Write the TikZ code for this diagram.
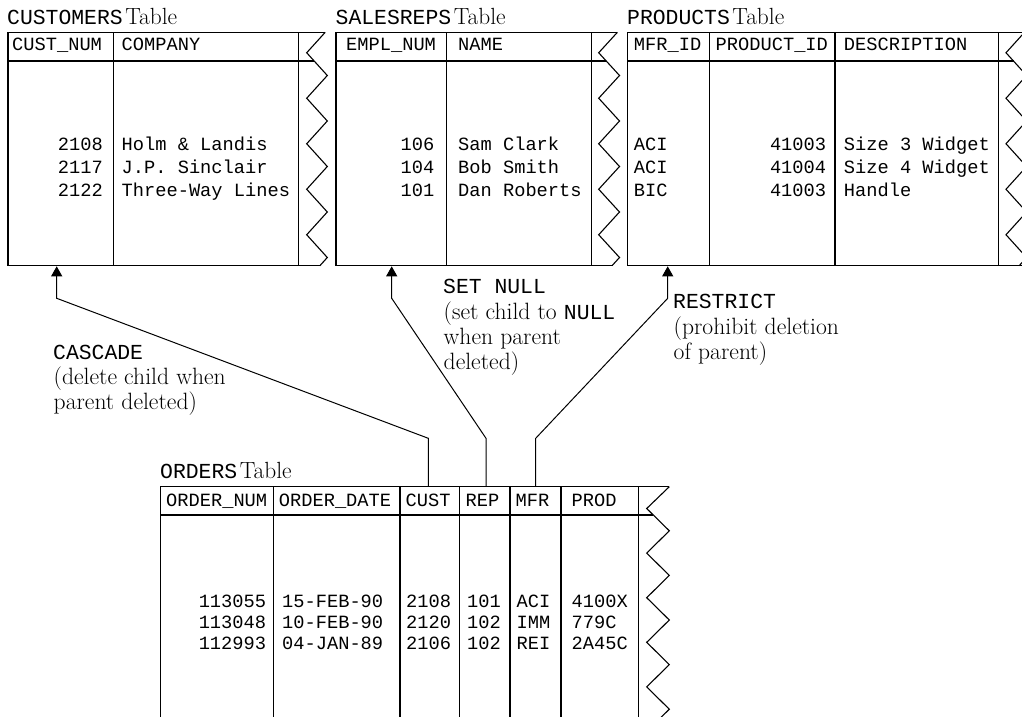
\documentclass[tikz,border=0pt]{standalone}
\usepackage{fontspec}
\setmonofont{Liberation Mono}
\usetikzlibrary{arrows.meta}
\newcommand\mtt[1]{{\fontsize{21.4}{25}\selectfont\ttfamily #1}}
\tikzset{
  tbl/.style={line width=1.1pt, line join=miter},
  hdr/.style={line width=1.7pt},
  cell/.style={inner sep=0pt, font=\fontsize{18.7}{22}\selectfont\ttfamily},
  numc/.style={cell, anchor=base east},
  txtc/.style={cell, anchor=base west},
  ttl/.style={inner sep=0pt, anchor=base west, font=\fontsize{23.4}{25}\selectfont},
  lbl/.style={inner sep=0pt, anchor=base west, font=\fontsize{23.6}{25}\selectfont},
  conn/.style={line width=1pt, -{Triangle[length=10pt,width=11pt]}},
}
% zigzag edge of a top table: #1 = left peak x, #2 = right peak x
\newcommand\myzz[2]{%
  \draw[tbl] ({#2-0.101*(#2-#1)},32.3)
    foreach \k in {0,...,4}{ -- (#1,{52.75+45.5*\k}) -- (#2,{75.5+45.5*\k}) }
    -- ({#2-0.36*(#2-#1)},265.7);}
\begin{document}
\begin{tikzpicture}[x=1pt,y=-1pt]
\useasboundingbox (0,0) rectangle (1022,717);
\clip (0,0) rectangle (1022,717);

% ---------------- CUSTOMERS ----------------
\node[ttl] (tcust) at (7,24.5) {\mtt{CUSTOMERS}\hspace{2.5pt}Table};
\draw[tbl] (325.2,32.3) -- (8,32.3) -- (8,265.7) -- (320,265.7);
\draw[hdr] (8,61) -- (314.3,61);
\draw[tbl] (113.3,32.3) -- (113.3,265.7) (298.3,32.3) -- (298.3,265.7);
\myzz{306.7}{327.3}
\node[txtc] (h11) at (12,50.7) {CUST\_NUM};
\node[txtc] (h12) at (121.5,50.7) {COMPANY};
\node[numc] (c11) at (103,150.5) {2108};
\node[numc] (c21) at (103,173.5) {2117};
\node[numc] (c31) at (103,196.5) {2122};
\node[txtc] (c12) at (121.5,150.5) {Holm \& Landis};
\node[txtc] (c22) at (121.5,173.5) {J.P. Sinclair};
\node[txtc] (c32) at (121.5,196.5) {Three-Way Lines};
\coordinate (custpk) at (56.7,266.3);

% ---------------- SALESREPS ----------------
\node[ttl] (tsales) at (335.5,24.5) {\mtt{SALESREPS}\hspace{2.5pt}Table};
\draw[tbl] (617.3,32.3) -- (336,32.3) -- (336,265.7) -- (612.7,265.7);
\draw[hdr] (336,61) -- (606.2,61);
\draw[tbl] (446.7,32.3) -- (446.7,265.7) (591.7,32.3) -- (591.7,265.7);
\myzz{598.7}{619.5}
\node[txtc] (h21) at (346,50.7) {EMPL\_NUM};
\node[txtc] (h22) at (458,50.7) {NAME};
\node[numc] (s11) at (434.6,150.5) {106};
\node[numc] (s21) at (434.6,173.5) {104};
\node[numc] (s31) at (434.6,196.5) {101};
\node[txtc] (s12) at (458,150.5) {Sam Clark};
\node[txtc] (s22) at (458,173.5) {Bob Smith};
\node[txtc] (s32) at (458,196.5) {Dan Roberts};
\coordinate (salespk) at (391.7,266.3);

% ---------------- PRODUCTS ----------------
\node[ttl] (tprod) at (627,24.5) {\mtt{PRODUCTS}\hspace{2.5pt}Table};
\draw[tbl] (1030,32.3) -- (627.3,32.3) -- (627.3,265.7) -- (1030,265.7);
\draw[hdr] (627.3,61) -- (1013.6,61);
\draw[tbl] (709.3,32.3) -- (709.3,265.7) (835,32.3) -- (835,265.7) (998.3,32.3) -- (998.3,265.7);
\myzz{1006}{1026.6}
\node[txtc] (h31) at (633.7,50.7) {MFR\_ID};
\node[txtc] (h32) at (715.5,50.7) {PRODUCT\_ID};
\node[txtc] (h33) at (843.7,50.7) {DESCRIPTION};
\node[txtc] (p11) at (633.7,150.5) {ACI};
\node[txtc] (p21) at (633.7,173.5) {ACI};
\node[txtc] (p31) at (633.7,196.5) {BIC};
\node[numc] (p12) at (826.3,150.5) {41003};
\node[numc] (p22) at (826.3,173.5) {41004};
\node[numc] (p32) at (826.3,196.5) {41003};
\node[txtc] (p13) at (843.7,150.5) {Size 3 Widget};
\node[txtc] (p23) at (843.7,173.5) {Size 4 Widget};
\node[txtc] (p33) at (843.7,196.5) {Handle};
\coordinate (prodpk) at (667.7,266.3);

% ---------------- ORDERS ----------------
\node[ttl] (tord) at (160,478.3) {\mtt{ORDERS}\hspace{2.5pt}Table};
\draw[tbl] (669.3,486.7) -- (160.7,486.7) -- (160.7,725);
\draw[hdr] (160.7,515) -- (653.3,515);
\foreach \xx in {273.3,400,459.3,510,561,638.7}{\draw[tbl] (\xx,486.7) -- (\xx,725);}
\draw[tbl] (669.3,486.7) foreach \k in {0,...,4}{ -- (646.7,{508.5+44.6*\k}) -- (669.3,{530.8+44.6*\k}) } -- (646.7,731.5);
\node[txtc] (h41) at (166,506) {ORDER\_NUM};
\node[txtc] (h42) at (278.7,506) {ORDER\_DATE};
\node[txtc] (h43) at (405.5,506) {CUST};
\node[txtc] (h44) at (465.5,506) {REP};
\node[txtc] (h45) at (515.5,506) {MFR};
\node[txtc] (h46) at (571.5,506) {PROD};
\node[numc] (o11) at (266.3,607.3) {113055};
\node[numc] (o21) at (266.3,628.3) {113048};
\node[numc] (o31) at (266.3,649.5) {112993};
\node[txtc] (o12) at (282,607.3) {15-FEB-90};
\node[txtc] (o22) at (282,628.3) {10-FEB-90};
\node[txtc] (o32) at (282,649.5) {04-JAN-89};
\node[txtc] (o13) at (406,607.3) {2108};
\node[txtc] (o23) at (406,628.3) {2120};
\node[txtc] (o33) at (406,649.5) {2106};
\node[txtc] (o14) at (467,607.3) {101};
\node[txtc] (o24) at (467,628.3) {102};
\node[txtc] (o34) at (467,649.5) {102};
\node[txtc] (o15) at (516.5,607.3) {ACI};
\node[txtc] (o25) at (516.5,628.3) {IMM};
\node[txtc] (o35) at (516.5,649.5) {REI};
\node[txtc] (o16) at (571.5,607.3) {4100X};
\node[txtc] (o26) at (571.5,628.3) {779C};
\node[txtc] (o36) at (571.5,649.5) {2A45C};
\coordinate (ocust) at (428.3,486.7);
\coordinate (orep) at (486,486.7);
\coordinate (omfr) at (535.7,486.7);

% ---------------- connectors ----------------
\coordinate (b1) at (428.3,438.3);
\coordinate (t1) at (56.7,298.3);
\coordinate (b2) at (486,438.3);
\coordinate (t2) at (391.7,298.3);
\coordinate (b3) at (535.7,438.3);
\coordinate (t3) at (667.7,298.3);
\draw[conn] (ocust) -- (b1) -- (t1) -- (custpk);
\draw[conn] (orep) -- (b2) -- (t2) -- (salespk);
\draw[conn] (omfr) -- (b3) -- (t3) -- (prodpk);

% ---------------- labels ----------------
\node[lbl] (cas1) at (53,359.3) {\mtt{CASCADE}};
\node[lbl] (cas2) at (53.5,384.3) {(delete child when};
\node[lbl] (cas3) at (53.5,409.5) {parent deleted)};
\node[lbl] (sn1) at (443,293.5) {\mtt{SET NULL}};
\node[lbl] (sn2) at (443.5,319) {(set child to \mtt{NULL}};
\node[lbl] (sn3) at (443.5,344.3) {when parent};
\node[lbl] (sn4) at (443.5,369.6) {deleted)};
\node[lbl] (rs1) at (673,308.5) {\mtt{RESTRICT}};
\node[lbl] (rs2) at (673.5,334) {(prohibit deletion};
\node[lbl] (rs3) at (673.5,359.5) {of parent)};
\end{tikzpicture}
\end{document}
